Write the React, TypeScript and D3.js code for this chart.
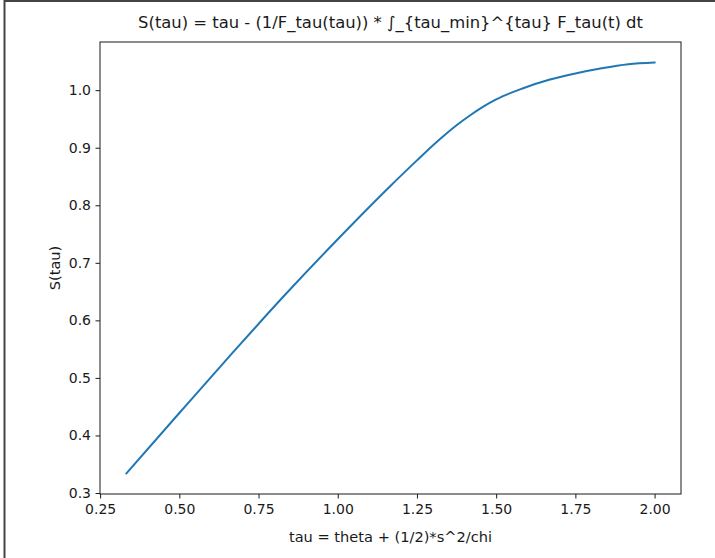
import * as d3 from 'd3';
import { useEffect, useRef } from 'react';

const WIDTH = 715;
const HEIGHT = 558;

// tau values and S(tau)
const tauValues = [
    0.333, 0.5, 0.667, 0.833, 1.0, 1.167, 1.25, 1.3, 1.333, 1.375, 1.417, 1.458, 1.5, 1.583, 1.667, 1.75,
    1.833, 1.917, 2.0,
];
const sValues = [
    0.334, 0.439, 0.543, 0.644, 0.741, 0.834, 0.878, 0.904, 0.92, 0.939, 0.956, 0.971, 0.984, 1.003, 1.018,
    1.029, 1.038, 1.045, 1.048,
];
const xTicks = [0.25, 0.5, 0.75, 1.0, 1.25, 1.5, 1.75, 2.0];
const yTicks = [0.3, 0.4, 0.5, 0.6, 0.7, 0.8, 0.9, 1.0];

const TITLE = 'S(tau) = tau - (1/F_tau(tau)) * \u222B_{tau_min}^{tau} F_tau(t) dt';
const X_LABEL = 'tau = theta + (1/2)*s^2/chi';
const Y_LABEL = 'S(tau)';

export default function App() {
    const svgRef = useRef<SVGSVGElement | null>(null);

    useEffect(() => {
        if (!svgRef.current) {
            return;
        }
        const svg = d3.select(svgRef.current);
        svg.selectAll('*').remove();

        const margin = { top: 42, right: 34, bottom: 64, left: 100 };
        const innerW = WIDTH - margin.left - margin.right;
        const innerH = HEIGHT - margin.top - margin.bottom;
        const font = '"DejaVu Sans", sans-serif';
        const ink = '#1a1a1a';

        const data = tauValues.map((t, i) => ({ t, s: sValues[i] }));

        // matplotlib-like 5% margins around the data
        const xr = d3.extent(tauValues) as [number, number];
        const yr = d3.extent(sValues) as [number, number];
        const xPad = (xr[1] - xr[0]) * 0.05;
        const yPad = (yr[1] - yr[0]) * 0.05;

        const x = d3
            .scaleLinear()
            .domain([xr[0] - xPad, xr[1] + xPad])
            .range([0, innerW]);
        const y = d3
            .scaleLinear()
            .domain([yr[0] - yPad, yr[1] + yPad])
            .range([innerH, 0]);

        svg.append('rect').attr('width', WIDTH).attr('height', HEIGHT).attr('fill', '#fff');

        // screenshot frame (left and top edges)
        svg.append('line')
            .attr('x1', 4.5)
            .attr('x2', 4.5)
            .attr('y1', 0)
            .attr('y2', HEIGHT)
            .attr('stroke', '#444')
            .attr('stroke-width', 2);
        svg.append('line')
            .attr('x1', 4)
            .attr('x2', WIDTH)
            .attr('y1', 1)
            .attr('y2', 1)
            .attr('stroke', '#444')
            .attr('stroke-width', 2);

        const g = svg.append('g').attr('transform', `translate(${margin.left},${margin.top})`);

        const line = d3
            .line<{ t: number; s: number }>()
            .x((d) => x(d.t))
            .y((d) => y(d.s))
            .curve(d3.curveMonotoneX);

        g.append('path')
            .datum(data)
            .attr('fill', 'none')
            .attr('stroke', '#1f77b4')
            .attr('stroke-width', 2)
            .attr('stroke-linecap', 'square')
            .attr('d', line);

        const xAxis = g
            .append('g')
            .attr('transform', `translate(0,${innerH})`)
            .call(
                d3
                    .axisBottom(x)
                    .tickValues(xTicks)
                    .tickFormat((d) => d3.format('.2f')(d as number))
                    .tickSize(4.5)
                    .tickPadding(6),
            );
        const yAxis = g.append('g').call(
            d3
                .axisLeft(y)
                .tickValues(yTicks)
                .tickFormat((d) => d3.format('.1f')(d as number))
                .tickSize(4.5)
                .tickPadding(4.5),
        );
        [xAxis, yAxis].forEach((ax) => {
            ax.select('.domain').remove();
            ax.selectAll('line').attr('stroke', ink).attr('stroke-width', 1);
            ax.selectAll('text').attr('fill', ink).style('font-family', font).style('font-size', '14px');
        });

        // spines
        g.append('rect')
            .attr('width', innerW)
            .attr('height', innerH)
            .attr('fill', 'none')
            .attr('stroke', ink)
            .attr('stroke-width', 1);

        g.append('text')
            .attr('x', innerW / 2)
            .attr('y', -14)
            .attr('text-anchor', 'middle')
            .style('font-family', font)
            .style('font-size', '16.4px')
            .attr('fill', ink)
            .text(TITLE);

        g.append('text')
            .attr('x', innerW / 2)
            .attr('y', innerH + 48)
            .attr('text-anchor', 'middle')
            .style('font-family', font)
            .style('font-size', '14.6px')
            .attr('fill', ink)
            .text(X_LABEL);

        g.append('text')
            .attr('transform', `translate(${-40},${innerH / 2}) rotate(-90)`)
            .attr('text-anchor', 'middle')
            .style('font-family', font)
            .style('font-size', '14.6px')
            .attr('fill', ink)
            .text(Y_LABEL);
    }, []);

    return (
        <svg
            ref={svgRef}
            width={WIDTH}
            height={HEIGHT}
            style={{ display: 'block', position: 'absolute', left: 0, top: 0 }}
        />
    );
}
